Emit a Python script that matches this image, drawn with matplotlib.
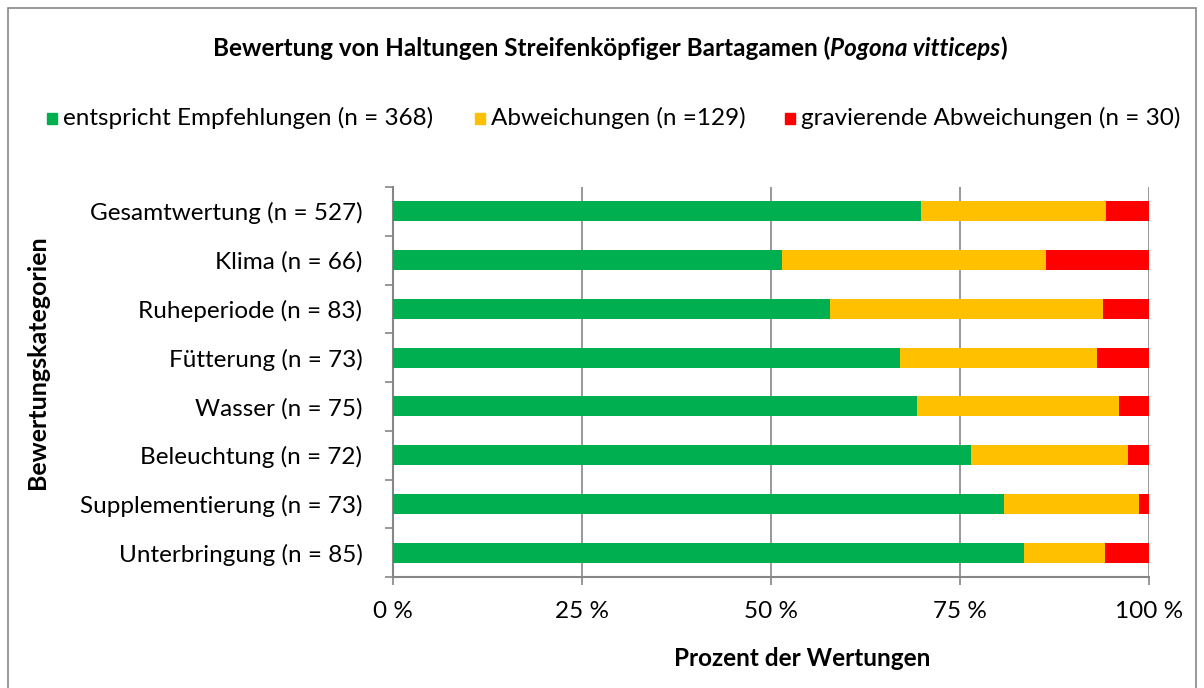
import matplotlib.pyplot as plt
from matplotlib.patches import Rectangle
import numpy as np

plt.rcParams['font.family'] = ['Lato', 'DejaVu Sans']

# data (counts per category)
categories = ["Gesamtwertung (n = 527)", "Klima (n = 66)", "Ruheperiode (n = 83)",
              "Fütterung (n = 73)", "Wasser (n = 75)", "Beleuchtung (n = 72)",
              "Supplementierung (n = 73)", "Unterbringung (n = 85)"]
ok = [368, 34, 48, 49, 52, 55, 59, 71]
dev = [129, 23, 30, 19, 20, 15, 13, 9]
severe = [30, 9, 5, 5, 3, 2, 1, 5]
series_names = ["entspricht Empfehlungen (n = 368)", "Abweichungen (n =129)",
                "gravierende Abweichungen (n = 30)"]
colors = ["#00B050", "#FFC000", "#FF0000"]
xticks = [0, 25, 50, 75, 100]

W, H = 1204, 688
fig = plt.figure(figsize=(W / 100, H / 100), dpi=100)

# outer frame
fig.patches.append(Rectangle((8 / W, -0.05), (1196 - 8) / W, 1.05 - 8 / H,
                             transform=fig.transFigure, fill=False,
                             edgecolor="#868686", linewidth=1.2))

ax = fig.add_axes([393 / W, 1 - 577 / H, (1149 - 393) / W, (577 - 187) / H])

tot = np.array(ok) + np.array(dev) + np.array(severe)
p_ok = np.array(ok) / tot * 100
p_dev = np.array(dev) / tot * 100
p_sev = np.array(severe) / tot * 100
y = np.arange(len(categories))

ax.barh(y, p_ok, height=0.41, color=colors[0], zorder=3)
ax.barh(y, p_dev, left=p_ok, height=0.41, color=colors[1], zorder=3)
ax.barh(y, p_sev, left=p_ok + p_dev, height=0.41, color=colors[2], zorder=3)

ax.set_xlim(0, 100)
ax.set_ylim(len(categories) - 0.5, -0.5)
ax.set_xticks(xticks)
ax.set_xticklabels([f"{t} %" for t in xticks])
ax.set_yticks(y)
ax.set_yticklabels(categories)
ax.set_yticks(np.arange(-0.5, len(categories)), minor=True)
ax.tick_params(axis='y', which='major', length=0, pad=22, labelsize=17.5)
ax.tick_params(axis='y', which='minor', length=6, color="#868686", width=1.2)
ax.tick_params(axis='x', length=6, color="#868686", width=1.2, pad=11, labelsize=17.5)
ax.grid(axis='x', color="#868686", linewidth=1.2, zorder=0)

for s in ['top', 'right']:
    ax.spines[s].set_visible(False)
for s in ['left', 'bottom']:
    ax.spines[s].set_color("#868686")
    ax.spines[s].set_linewidth(1.5)

# axis titles
fig.text(802 / W, 1 - 658 / H, "Prozent der Wertungen", ha='center', va='center',
         fontsize=17.5, fontweight='bold')
fig.text(38 / W, 1 - 362 / H, "Bewertungskategorien", ha='center', va='center',
         fontsize=18, fontweight='bold', rotation=90)

# title with italic species name
fig.canvas.draw()
r = fig.canvas.get_renderer()
parts = [("Bewertung von Haltungen Streifenköpfiger Bartagamen (", 'normal'),
         ("Pogona vitticeps", 'italic'), (")", 'normal')]
texts = []
widths = []
for s, st in parts:
    t = fig.text(0, 1 - 48 / H, s, fontsize=17.5, fontweight='bold', style=st, va='center')
    texts.append(t)
    widths.append(t.get_window_extent(r).width)
x0 = 610 - sum(widths) / 2
for t, w in zip(texts, widths):
    t.set_x(x0 / W)
    x0 += w

# legend
leg_x = [47, 475, 785]
for lx, c, name in zip(leg_x, colors, series_names):
    fig.patches.append(Rectangle((lx / W, 1 - 124 / H), 10 / W, 11 / H,
                                 transform=fig.transFigure, color=c))
    fig.text((lx + 16) / W, 1 - 118 / H, name, fontsize=17.5, va='center')

fig.savefig("out.png", dpi=100)
